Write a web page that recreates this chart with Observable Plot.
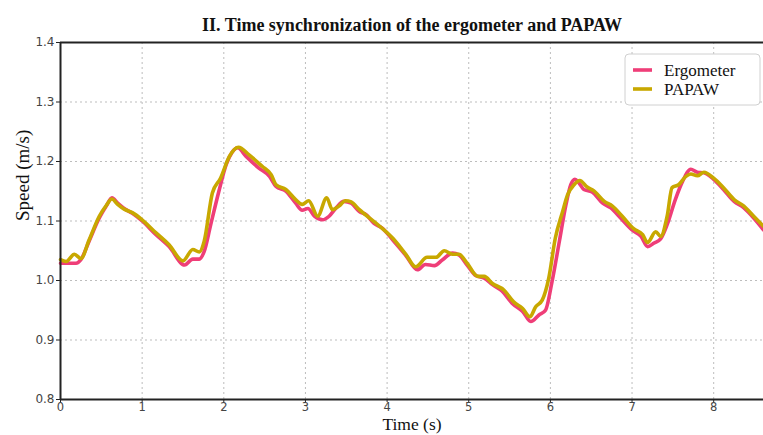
<!DOCTYPE html>
<html><head><meta charset="utf-8">
<script src="https://cdn.jsdelivr.net/npm/d3@7"></script>
<script src="https://cdn.jsdelivr.net/npm/@observablehq/plot@0.6"></script>
<style>body{margin:0;background:#fff}#chart{width:763px;height:435px}</style>
</head><body><div id="chart"></div>
<script>
const chartTitle = "II. Time synchronization of the ergometer and PAPAW";
const xLabel = "Time (s)";
const yLabel = "Speed (m/s)";
const seriesNames = ["Ergometer", "PAPAW"];
const seriesColors = ["#ef3e78", "#c8a800"];
const xTicks = [0, 1, 2, 3, 4, 5, 6, 7, 8];
const yTicks = [0.8, 0.9, 1.0, 1.1, 1.2, 1.3, 1.4];

// [time (s), speed (m/s)]
const ergometer = [[0,1.029],[0.19,1.029],[0.25,1.035],[0.35,1.066],[0.475,1.105],[0.56,1.125],[0.63,1.139],[0.70,1.130],[0.78,1.121],[0.88,1.113],[1.0,1.100],[1.17,1.077],[1.33,1.057],[1.52,1.026],[1.62,1.036],[1.70,1.036],[1.76,1.049],[1.84,1.094],[1.94,1.150],[2.03,1.195],[2.10,1.215],[2.17,1.223],[2.27,1.209],[2.43,1.189],[2.56,1.175],[2.64,1.158],[2.76,1.150],[2.88,1.130],[2.96,1.118],[3.03,1.121],[3.11,1.108],[3.21,1.102],[3.29,1.108],[3.37,1.121],[3.47,1.133],[3.56,1.130],[3.66,1.116],[3.74,1.111],[3.84,1.096],[3.94,1.088],[4.07,1.068],[4.23,1.042],[4.37,1.018],[4.47,1.027],[4.58,1.025],[4.68,1.035],[4.80,1.046],[4.88,1.043],[4.98,1.026],[5.09,1.008],[5.19,1.004],[5.29,0.993],[5.41,0.982],[5.53,0.962],[5.66,0.948],[5.76,0.931],[5.86,0.942],[5.94,0.950],[6.02,0.998],[6.11,1.066],[6.19,1.127],[6.25,1.161],[6.30,1.170],[6.35,1.164],[6.41,1.153],[6.51,1.149],[6.64,1.130],[6.74,1.122],[6.86,1.105],[7.00,1.085],[7.11,1.074],[7.19,1.057],[7.27,1.063],[7.35,1.070],[7.43,1.094],[7.53,1.136],[7.62,1.167],[7.72,1.187],[7.80,1.182],[7.88,1.181],[8.00,1.170],[8.12,1.153],[8.25,1.133],[8.37,1.122],[8.49,1.105],[8.61,1.085]];
const papaw = [[0,1.035],[0.07,1.032],[0.17,1.044],[0.25,1.037],[0.35,1.068],[0.475,1.108],[0.56,1.126],[0.63,1.137],[0.70,1.128],[0.78,1.120],[0.88,1.114],[1.0,1.102],[1.17,1.080],[1.33,1.060],[1.50,1.033],[1.62,1.052],[1.70,1.048],[1.76,1.066],[1.86,1.147],[1.96,1.172],[2.07,1.209],[2.18,1.224],[2.31,1.211],[2.47,1.192],[2.58,1.178],[2.64,1.161],[2.76,1.153],[2.88,1.136],[2.96,1.128],[3.04,1.134],[3.15,1.108],[3.26,1.139],[3.33,1.119],[3.41,1.125],[3.49,1.134],[3.56,1.132],[3.66,1.119],[3.84,1.099],[4.07,1.071],[4.23,1.044],[4.35,1.023],[4.49,1.039],[4.60,1.039],[4.70,1.050],[4.80,1.044],[4.88,1.044],[4.98,1.029],[5.11,1.007],[5.19,1.007],[5.29,0.995],[5.43,0.984],[5.55,0.964],[5.66,0.953],[5.75,0.939],[5.82,0.956],[5.90,0.967],[5.98,1.004],[6.06,1.071],[6.15,1.116],[6.21,1.144],[6.29,1.161],[6.36,1.168],[6.45,1.157],[6.53,1.151],[6.66,1.133],[6.76,1.125],[6.88,1.108],[7.02,1.087],[7.13,1.077],[7.19,1.064],[7.29,1.082],[7.35,1.074],[7.43,1.108],[7.49,1.156],[7.57,1.161],[7.66,1.175],[7.72,1.179],[7.80,1.176],[7.88,1.182],[8.00,1.172],[8.12,1.156],[8.25,1.136],[8.37,1.125],[8.49,1.108],[8.61,1.091]];

const serif = "'Liberation Serif', 'Times New Roman', serif";
const sans = "'DejaVu Sans', sans-serif";

const chart = Plot.plot({
  width: 763, height: 435,
  marginTop: 42, marginBottom: 36, marginLeft: 60, marginRight: 0,
  x: {domain: [0, 8.61]},
  y: {domain: [0.8, 1.4]},
  style: {background: "white", overflow: "visible"},
  marks: [
    Plot.gridX(xTicks, {stroke: "#bdbdbd", strokeOpacity: 1, strokeDasharray: "2,3", strokeWidth: 1}),
    Plot.gridY(yTicks, {stroke: "#bdbdbd", strokeOpacity: 1, strokeDasharray: "2,3", strokeWidth: 1}),
    Plot.line(ergometer, {x: d => d[0], y: d => d[1], stroke: seriesColors[0], strokeWidth: 3.6, curve: "monotone-x"}),
    Plot.line(papaw, {x: d => d[0], y: d => d[1], stroke: seriesColors[1], strokeWidth: 3.6, curve: "monotone-x"}),
    Plot.ruleY([yTicks[yTicks.length - 1]], {stroke: "#222", strokeWidth: 2}),
    Plot.ruleY([yTicks[0]], {stroke: "#222", strokeWidth: 2}),
    Plot.ruleX([xTicks[0]], {stroke: "#222", strokeWidth: 2}),
    Plot.axisX(xTicks, {tickSize: 3, tickPadding: 0, fontSize: 11.5, fontFamily: sans, color: "#444", stroke: "#222", label: null}),
    Plot.axisY(yTicks, {tickSize: 4, tickPadding: 2, fontSize: 12, fontFamily: sans, color: "#444", stroke: "#222", tickFormat: d3.format(".1f"), label: null}),
    Plot.text([chartTitle], {frameAnchor: "top", dy: -24, fontSize: 18, fontWeight: "bold", fontFamily: serif, fill: "#111"}),
    Plot.text([xLabel], {frameAnchor: "bottom", dy: 30, fontSize: 17.5, fontFamily: serif, fill: "#111"}),
    Plot.text([yLabel], {frameAnchor: "left", dx: -38, rotate: -90, fontSize: 19, fontFamily: serif, fill: "#111"})
  ]
});

// legend inside the plot (upper right)
const svg = d3.select(chart);
const lg = svg.append("g").attr("transform", "translate(625,54)").attr("text-anchor", "start");
lg.append("rect").attr("width", 135).attr("height", 51).attr("rx", 4)
  .attr("fill", "white").attr("stroke", "#d0d0d0").attr("stroke-width", 1);
seriesNames.forEach((name, i) => {
  const y = 16 + i * 19;
  lg.append("line").attr("x1", 8).attr("x2", 27).attr("y1", y).attr("y2", y)
    .attr("stroke", seriesColors[i]).attr("stroke-width", 3.6);
  lg.append("text").attr("x", 39).attr("y", y).attr("dy", "0.35em")
    .attr("text-anchor", "start")
    .attr("font-family", serif).attr("font-size", 17).attr("fill", "#111").text(name);
});

document.getElementById("chart").appendChild(chart);
</script>
</body></html>
